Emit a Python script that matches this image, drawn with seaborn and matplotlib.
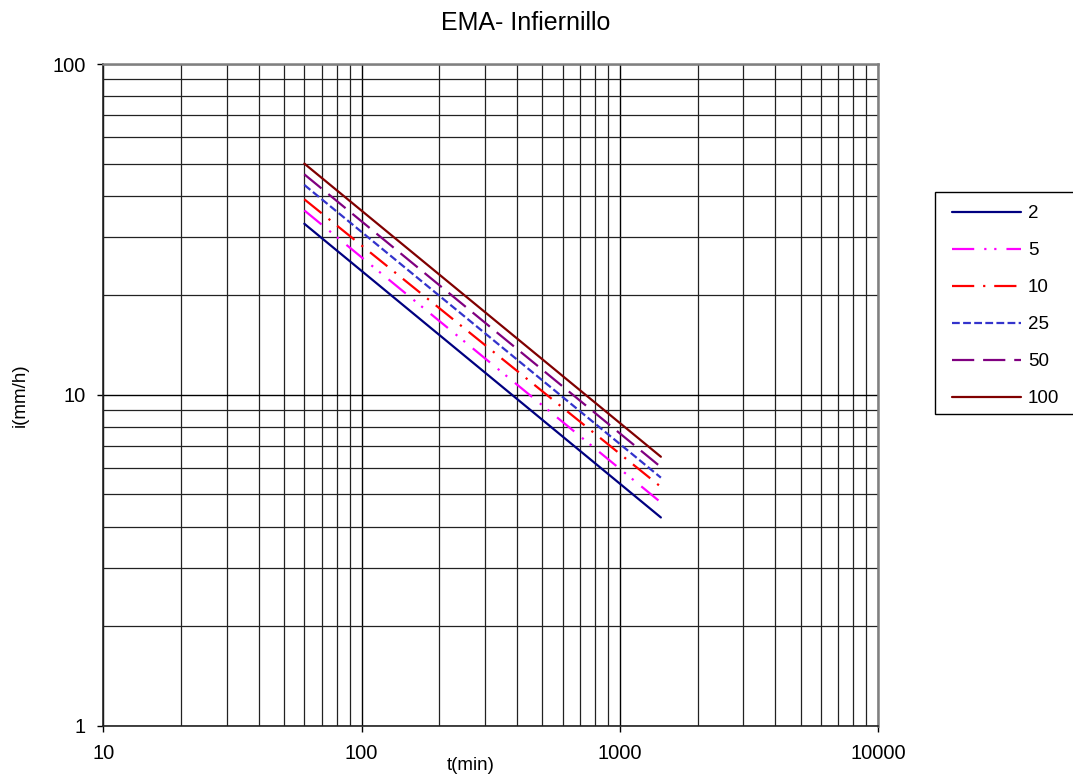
import matplotlib
matplotlib.use("Agg")
import matplotlib.pyplot as plt
from matplotlib.lines import Line2D
from matplotlib.patches import Rectangle
from matplotlib.ticker import FixedLocator, FixedFormatter, LogLocator, NullFormatter
import seaborn as sns
import pandas as pd

# ---- data ----
durations = [60, 1440]                      # t (min)
periods = ["2", "5", "10", "25", "50", "100"]  # return period labels
i_2 = [32.9, 4.26]
i_5 = [36.1, 4.73]
i_10 = [39.0, 5.27]
i_25 = [43.1, 5.62]
i_50 = [46.4, 6.05]
i_100 = [50.0, 6.50]
series = [i_2, i_5, i_10, i_25, i_50, i_100]

title = "EMA- Infiernillo"
xlabel = "t(min)"
ylabel = "i(mm/h)"
xticks = [10, 100, 1000, 10000]
xticklabels = ["10", "100", "1000", "10000"]
yticks = [1, 10, 100]
yticklabels = ["1", "10", "100"]

colors = {"2": "#000080", "5": "#FF00FF", "10": "#FF0000",
          "25": "#3333CC", "50": "#800080", "100": "#800000"}
dashes = {"2": "", "5": (10, 4.5, 1, 3.5, 1, 4.5), "10": (10, 4, 1, 4),
          "25": (3.5, 1.5), "50": (10, 4), "100": ""}

rows = []
for p, vals in zip(periods, series):
    for t, v in zip(durations, vals):
        rows.append({"t": t, "i": v, "T": p})
df = pd.DataFrame(rows)

sns.set_theme(style="white")
plt.rcParams["font.family"] = ["Liberation Sans", "DejaVu Sans"]
plt.rcParams["text.color"] = "black"
plt.rcParams["xtick.color"] = "black"
plt.rcParams["ytick.color"] = "black"

W, H = 1073, 778
fig = plt.figure(figsize=(W / 100, H / 100), dpi=100)
ax = fig.add_axes([103.3 / W, 1 - 725.7 / H, (878.3 - 103.3) / W, (725.7 - 64) / H])

sns.lineplot(data=df, x="t", y="i", hue="T", style="T", hue_order=periods,
             style_order=periods, palette=colors, dashes=dashes, lw=1.6,
             ax=ax, legend=False, zorder=3)

ax.set_xscale("log")
ax.set_yscale("log")
ax.set_xlim(10, 10000)
ax.set_ylim(1, 100)

ax.xaxis.set_major_locator(FixedLocator(xticks))
ax.xaxis.set_major_formatter(FixedFormatter(xticklabels))
ax.yaxis.set_major_locator(FixedLocator(yticks))
ax.yaxis.set_major_formatter(FixedFormatter(yticklabels))
ax.xaxis.set_minor_locator(LogLocator(base=10, subs=range(2, 10)))
ax.yaxis.set_minor_locator(LogLocator(base=10, subs=range(2, 10)))
ax.xaxis.set_minor_formatter(NullFormatter())
ax.yaxis.set_minor_formatter(NullFormatter())

ax.grid(True, which="major", color="black", lw=1.0, zorder=1)
ax.grid(True, which="minor", color="#222222", lw=0.9, zorder=1)
ax.set_axisbelow(True)

ax.tick_params(axis="both", which="major", direction="out", length=4.5, width=1,
               color="black", labelsize=14.5, labelcolor="black",
               left=True, bottom=True)
ax.tick_params(axis="y", which="major", pad=8)
ax.tick_params(axis="x", which="major", pad=9)
ax.tick_params(axis="both", which="minor", length=0)

for s in ["top", "right"]:
    ax.spines[s].set_color("#808080")
    ax.spines[s].set_linewidth(1.8)
for s in ["left", "bottom"]:
    ax.spines[s].set_color("#222222")
    ax.spines[s].set_linewidth(1.2)

ax.set_xlabel("")
ax.set_ylabel("")
fig.text(470.8 / W, 1 - 765 / H, xlabel, ha="center", va="center", fontsize=13.5)
fig.text(20.5 / W, 1 - 394.9 / H, ylabel, ha="center", va="center",
         rotation=90, fontsize=13.5)
fig.text(526 / W, 1 - 23 / H, title, ha="center", va="center", fontsize=18)

# legend frame
fig.patches.append(Rectangle((935.3 / W, 1 - 414 / H), (1090 - 935.3) / W, (414 - 192.3) / H,
                             transform=fig.transFigure, facecolor="white",
                             edgecolor="black", lw=1.0, zorder=4))

handles = []
for p in periods:
    d = dashes[p]
    h = Line2D([0], [0], color=colors[p], lw=1.6)
    if d:
        h.set_dashes(d)
    handles.append(h)

leg = fig.legend(handles, periods, loc="upper left",
                 bbox_to_anchor=(952 / W, 1 - 205 / H),
                 bbox_transform=fig.transFigure,
                 fontsize=13.5, handlelength=3.68, handletextpad=0.37,
                 labelspacing=1.06, borderpad=0, borderaxespad=0,
                 frameon=False)
leg.set_zorder(6)

fig.savefig("out.png", dpi=100)
